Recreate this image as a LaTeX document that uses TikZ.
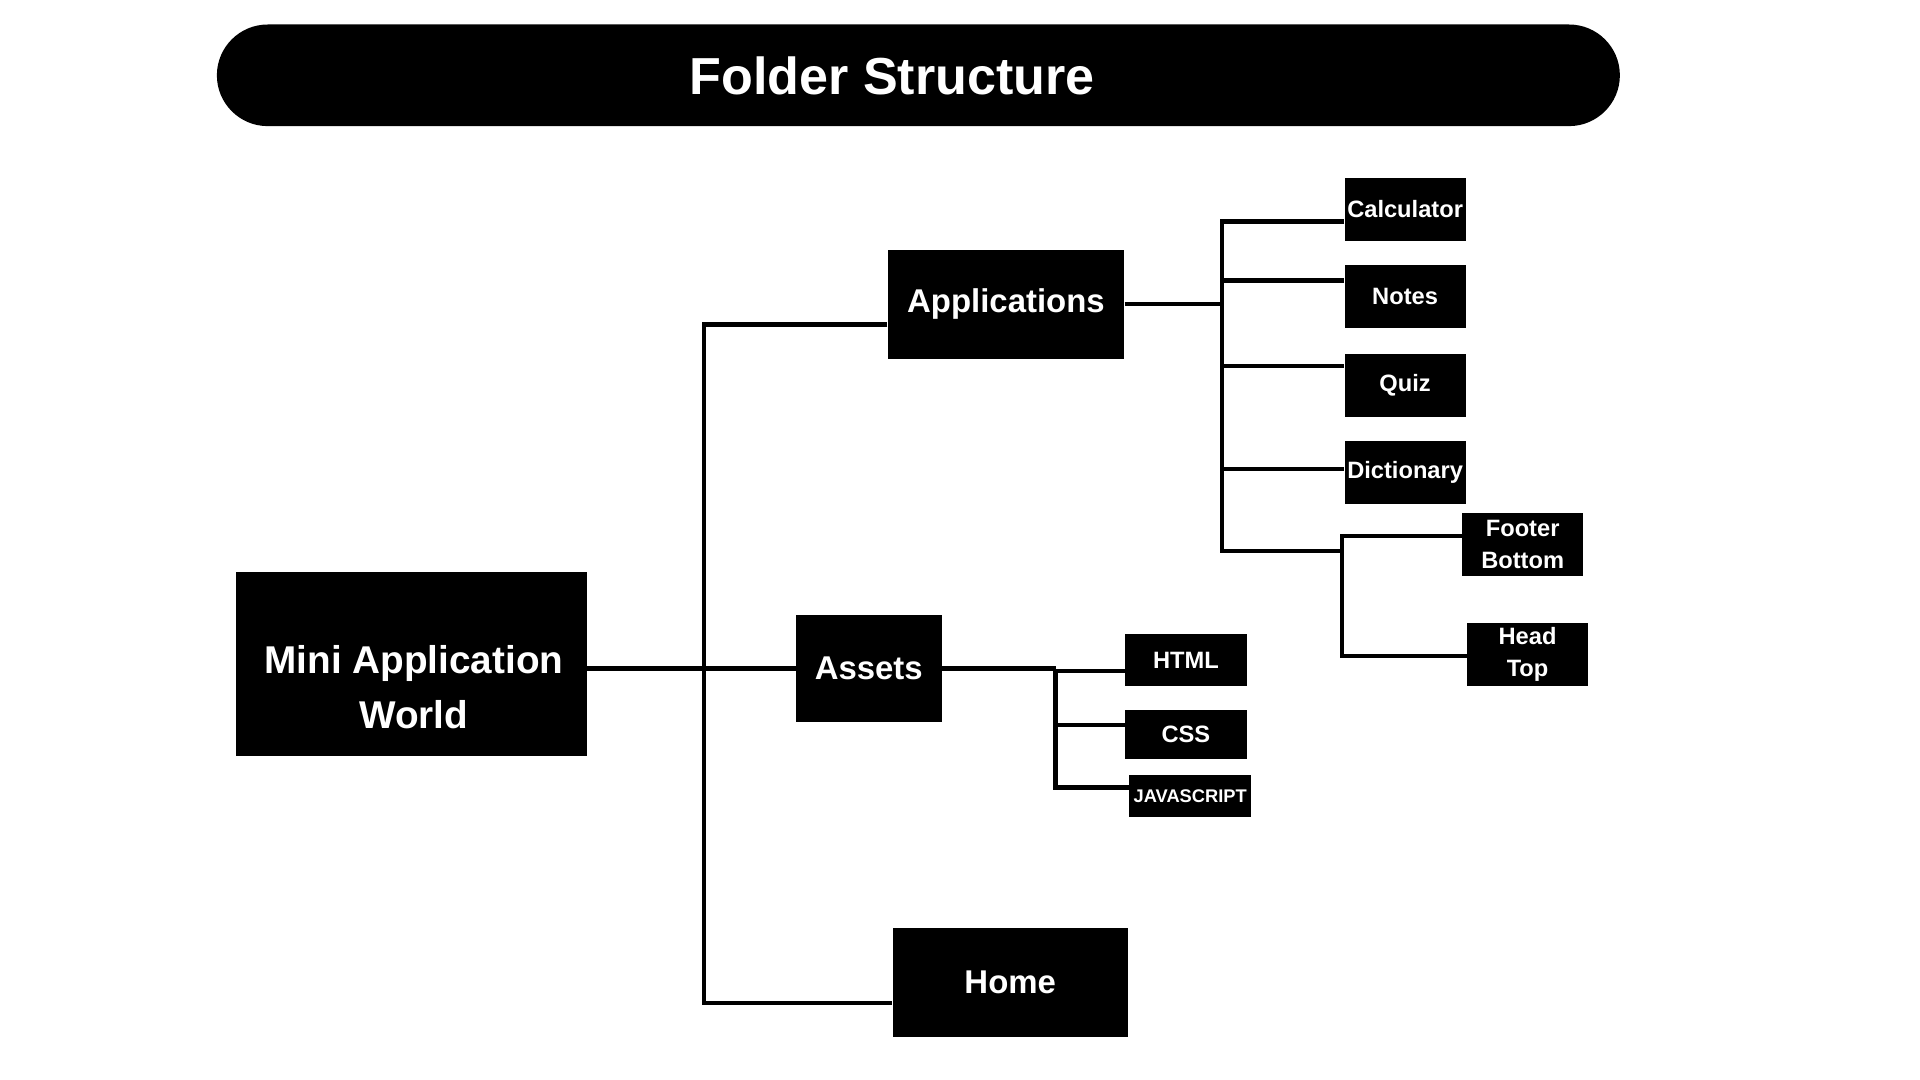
\documentclass[tikz,border=0pt]{standalone}
\usepackage{fontspec}
\setmainfont{Liberation Sans}
\usepackage{tikz}

\tikzset{
	folder/.style={fill=black, text=white, inner sep=0pt, align=center},
	wire/.style={line width=2pt, black},
	top/.style={folder, font=\fontsize{15.3}{18}\selectfont\bfseries},
	leaf/.style={folder, font=\fontsize{11}{14.8}\selectfont\bfseries, minimum width=19.8mm, minimum height=10.3mm},
}

\begin{document}
\begin{tikzpicture}[x=0.02cm, y=-0.02cm]
	\useasboundingbox (0,0) rectangle (1568,882);
	\node[fill=black, rounded corners=8.3mm, minimum width=229.2mm, minimum height=16.6mm] (title) at (750,61.5) {};
	\node[text=white, font=\fontsize{24.2}{29}\selectfont\bfseries] (titletext) at (728.5,62) {Folder Structure};
	\node[folder, minimum width=57.2mm, minimum height=30mm] (root) at (336,542) {};
	\node[text=white, align=center, font=\fontsize{18}{25.6}\selectfont\bfseries] (roottext) at (338,561) {Mini Application\\World};
	\node[top, minimum width=38.6mm, minimum height=17.8mm] (apps) at (821.5,248.5) {Applications};
	\node[top, minimum width=23.8mm, minimum height=17.6mm] (assets) at (709.5,546) {Assets};
	\node[top, minimum width=38.4mm, minimum height=17.8mm] (home) at (825,802.5) {Home};
	\node[leaf] (calc) at (1147.5,171) {Calculator};
	\node[leaf] (notes) at (1147.5,242.5) {Notes};
	\node[leaf] (quiz) at (1147.5,314.5) {Quiz};
	\node[leaf] (dict) at (1147.5,385.5) {Dictionary};
	\node[leaf] (footer) at (1243.5,444.5) {Footer\\Bottom};
	\node[leaf] (head) at (1247.5,534.5) {Head\\Top};
	\node[leaf, minimum height=8.4mm] (html) at (968.5,539) {HTML};
	\node[leaf, minimum height=8mm] (css) at (968.5,600) {CSS};
	\node[leaf, minimum width=20mm, minimum height=6.8mm, font=\fontsize{8.5}{10}\selectfont\bfseries] (js) at (972,650) {JAVASCRIPT};
	\coordinate (trunktop) at (575,265);
	\coordinate (trunkbot) at (575,819);
	\coordinate (apptop) at (998,181);
	\coordinate (appbot) at (998,450);
	\coordinate (subtop) at (1096,438);
	\coordinate (subbot) at (1096,536);
	\coordinate (asstop) at (862,548);
	\coordinate (assbot) at (862,643);
	\draw[wire] (root.east |- assets.west) -- (assets.west);
	\draw[wire] (apps.west |- trunktop) -- (trunktop) -- (trunkbot) -- (home.west |- trunkbot);
	\draw[wire] (apps.east) -- (apps.east -| apptop);
	\draw[wire] (calc.west |- apptop) -- (apptop) -- (appbot) -- (appbot -| subtop);
	\foreach \leafname/\y in {notes/229, quiz/299, dict/383}
		\draw[wire] (998,\y) -- (\leafname.west |- 998,\y);
	\draw[wire] (footer.west |- subtop) -- (subtop) -- (subbot) -- (head.west |- subbot);
	\draw[wire] (assets.east) -- (assets.east -| asstop);
	\draw[wire] (html.west |- asstop) -- (asstop) -- (assbot) -- (js.west |- assbot);
	\draw[wire] (862,592) -- (css.west |- 862,592);
\end{tikzpicture}
\end{document}
